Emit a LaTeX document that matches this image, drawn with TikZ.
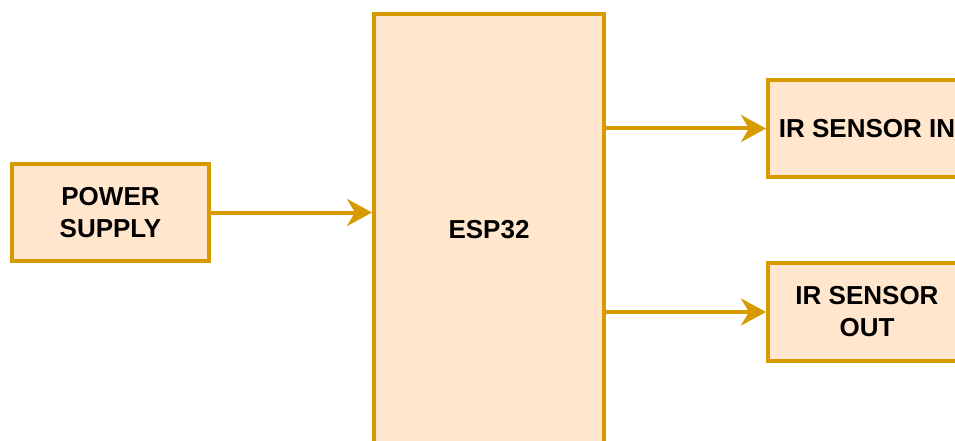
\documentclass[tikz,border=0pt]{standalone}
\usepackage{fontspec}
\setmainfont{Liberation Sans}
\usetikzlibrary{arrows.meta}
\definecolor{boxfill}{HTML}{FFE6CC}
\definecolor{boxdraw}{HTML}{D79B00}
\tikzset{
  blockbox/.style={draw=boxdraw, fill=boxfill, line width=4pt, inner sep=0pt,
    align=center, font=\fontsize{26}{32}\selectfont\bfseries},
  flowarrow/.style={draw=boxdraw, line width=4pt,
    -{Stealth[length=25pt, width=27pt, inset=8pt]}}
}
\begin{document}
\begin{tikzpicture}[x=1pt, y=-1pt]
\useasboundingbox (0,0) rectangle (955,441);
\clip (0,0) rectangle (955,441);
\node[blockbox, minimum width=197pt, minimum height=97pt] (ps) at (110.5,212.5) {POWER\\SUPPLY};
\node[blockbox, minimum width=230pt, minimum height=432pt] (esp) at (489,230) {ESP32};
\node[blockbox, minimum width=198pt, minimum height=97pt] (irin) at (867,128.5) {IR SENSOR IN};
\node[blockbox, minimum width=198pt, minimum height=98pt] (irout) at (867,312) {IR SENSOR\\OUT};
\draw[flowarrow] (ps.east) -- (esp.west |- ps.east);
\draw[flowarrow] (esp.east |- irin.west) -- (irin.west);
\draw[flowarrow] (esp.east |- irout.west) -- (irout.west);
\end{tikzpicture}
\end{document}
